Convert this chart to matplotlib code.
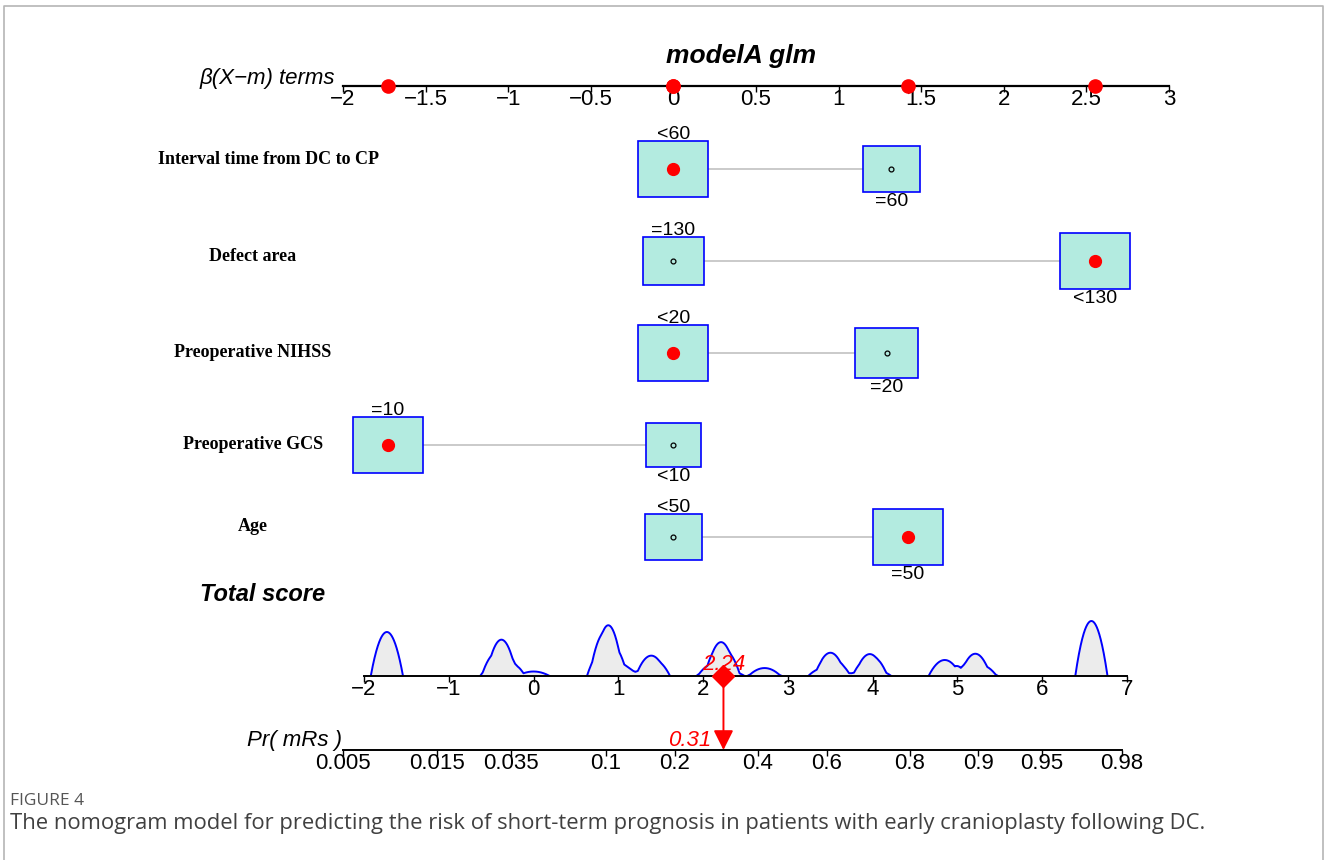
import numpy as np
import matplotlib
matplotlib.use("Agg")
import matplotlib.pyplot as plt
import matplotlib.transforms as mtransforms
from matplotlib.patches import Rectangle
from matplotlib.lines import Line2D
from matplotlib.ticker import NullLocator

plt.rcParams['font.family'] = ['Liberation Sans', 'DejaVu Sans']

# ---- model terms (beta * (X - m) points per level) ----
terms = ["Interval time from DC to CP", "Defect area", "Preoperative NIHSS",
         "Preoperative GCS", "Age"]
levels = [["<60", "=60"], ["=130", "<130"], ["<20", "=20"], ["=10", "<10"], ["<50", "=50"]]
betas = [[0.0, 1.32], [0.0, 2.55], [0.0, 1.29], [-1.73, 0.0], [0.0, 1.42]]
freqs = [[0.60, 0.40], [0.43, 0.57], [0.55, 0.45], [0.62, 0.38], [0.40, 0.60]]
observed = [0, 1, 0, 0, 1]          # level of the patient shown in red

beta_ticks = [-2, -1.5, -1, -0.5, 0, 0.5, 1, 1.5, 2, 2.5, 3]
beta_labels = ["\u22122", "\u22121.5", "\u22121", "\u22120.5", "0", "0.5", "1", "1.5", "2", "2.5", "3"]

# ---- total score distribution (score value, weight) ----
score_values = [-1.73, -0.44, -0.41, -0.31, 0.0, 0.82, 0.88, 0.98, 1.01, 1.29, 1.32, 1.42,
                2.11, 2.14, 2.24, 2.30, 2.71, 2.74, 3.43, 3.53, 3.56, 3.84, 3.87,
                3.97, 4.03, 4.85, 5.16, 5.26, 5.29, 6.58]
score_counts = [44, 12, 12, 16, 4.5, 25, 20, 5.5, 8, 3, 3, 16,
                6, 6, 21, 5, 4, 4, 8, 14, 3, 2, 2,
                14, 6, 16, 13.5, 6, 5, 55]
kde_bandwidth = 0.19          # Epanechnikov half-width, score units
score_ticks = [-2, -1, 0, 1, 2, 3, 4, 5, 6, 7]
score_labels = ["\u22122", "\u22121", "0", "1", "2", "3", "4", "5", "6", "7"]

# ---- probability axis ----
prob_intercept = -3.05
prob_ticks = [0.005, 0.015, 0.035, 0.1, 0.2, 0.4, 0.6, 0.8, 0.9, 0.95, 0.98]
prob_labels = ["0.005", "0.015", "0.035", "0.1", "0.2", "0.4", "0.6", "0.8", "0.9", "0.95", "0.98"]

caption = ("The nomogram model for predicting the risk of short-term prognosis in patients "
           "with early cranioplasty following DC.")

W, H = 1328, 860
fig = plt.figure(figsize=(W / 100, H / 100), dpi=100)


def px_axes(left, top, right, bottom):
    return fig.add_axes([left / W, 1 - bottom / H, (right - left) / W, (bottom - top) / H])


def fy(y):
    return 1 - y / H


box_fc = "#b3ebe0"
tick_kw = dict(direction="out", length=4, width=1, labelsize=16, pad=-2)

# ---- top beta scale ----
ax_top = px_axes(343, 60, 1169, 86)
ax_top.set_xlim(-2, 3)
ax_top.set_ylim(0, 1)
for s in ["top", "left", "right"]:
    ax_top.spines[s].set_visible(False)
ax_top.spines["bottom"].set_linewidth(1.6)
ax_top.set_yticks([])
ax_top.set_xticks(beta_ticks, beta_labels)
ax_top.tick_params(axis="x", **tick_kw)
ax_top.patch.set_alpha(0)
obs_betas = [betas[i][observed[i]] for i in range(len(terms))]
ax_top.plot(obs_betas, [0] * len(obs_betas), "o", color="red", ms=9.5, clip_on=False, zorder=5)

# ---- term rows with boxes ----
ax_b = px_axes(343, 86, 1169, 600)
ax_b.set_xlim(-2, 3)
ax_b.set_ylim(5 + (600 - 537) / 92, 1 - (169 - 86) / 92)
ax_b.axis("off")

box_w = 70 / 165.2
box_h = 56 / 92
label_x = [269, 253, 253, 253, 253]
label_dy = [-0.1, -0.05, 0, 0, -0.11]
lab_trans = mtransforms.blended_transform_factory(fig.transFigure, ax_b.transData)

for i, term in enumerate(terms):
    y = i + 1
    ax_b.plot(betas[i], [y, y], color="#c6c6c6", lw=1.3, zorder=1)
    fmax = max(freqs[i])
    for j, (b, f) in enumerate(zip(betas[i], freqs[i])):
        k = np.sqrt(f / fmax)
        w, h = box_w * k, box_h * k
        ax_b.add_patch(Rectangle((b - w / 2, y - h / 2), w, h, fc=box_fc, ec="blue",
                                 lw=1.2, zorder=2, clip_on=False))
        if j == observed[i]:
            ax_b.plot(b, y, "o", color="red", ms=8.5, zorder=4, clip_on=False)
        else:
            ax_b.plot(b, y, "o", mfc="none", mec="black", ms=3.5, mew=0.9, zorder=4, clip_on=False)
        if j == 0:
            ax_b.annotate(levels[i][j], (b, y - h / 2), xytext=(0, 1.5), textcoords="offset points",
                          ha="center", va="baseline", fontsize=14, annotation_clip=False)
        else:
            ax_b.annotate(levels[i][j], (b, y + h / 2), xytext=(0, -0.5), textcoords="offset points",
                          ha="center", va="top", fontsize=14, annotation_clip=False)
    ax_b.text(label_x[i] / W, y + label_dy[i], term, transform=lab_trans, ha="center",
              va="center", fontsize=13, fontweight="bold", family="Liberation Serif")

# ---- total score density (Epanechnikov kernel estimate) ----
ax_d = px_axes(364, 616, 1127, 676)
grid = np.linspace(-2, 7, 4000)
u = (grid[:, None] - np.array(score_values)[None, :]) / kde_bandwidth
dens = (np.clip(1 - u ** 2, 0, None) * np.array(score_counts)[None, :]).sum(axis=1)
ax_d.fill_between(grid, 0, dens, color="#ececec", lw=0, zorder=1)
ax_d.plot(grid, np.where(dens > 0, dens, np.nan), color="blue", lw=1.4, zorder=2)
ax_d.set_xlim(-2, 7)
ax_d.set_ylim(0, dens.max() * 60 / 55)
for s in ["top", "left", "right"]:
    ax_d.spines[s].set_visible(False)
ax_d.spines["bottom"].set_linewidth(1.4)
ax_d.spines["bottom"].set_zorder(3)
ax_d.set_yticks([])
ax_d.set_xticks(score_ticks, score_labels)
ax_d.tick_params(axis="x", **tick_kw)
ax_d.patch.set_alpha(0)

obs_score = sum(obs_betas)
p_obs = 1 / (1 + np.exp(-(obs_score + prob_intercept)))
ax_d.plot(obs_score, 0, "D", color="red", ms=11, clip_on=False, zorder=6)
ax_d.annotate(f"{obs_score:.2f}", (obs_score, 0), xytext=(0, 4), textcoords="offset points",
              ha="center", va="baseline", color="red", style="italic", fontsize=16,
              annotation_clip=False)

# ---- probability axis ----
score_px = (1127 - 364) / 9


def score_to_px(s):
    return 364 + (s + 2) * score_px


def logit(p):
    return np.log(p / (1 - p))


ax_p = px_axes(score_to_px(logit(prob_ticks[0]) - prob_intercept), 720,
               score_to_px(logit(prob_ticks[-1]) - prob_intercept), 750)
ax_p.set_xscale("logit")
ax_p.set_xlim(prob_ticks[0], prob_ticks[-1])
ax_p.set_ylim(0, 1)
for s in ["top", "left", "right"]:
    ax_p.spines[s].set_visible(False)
ax_p.spines["bottom"].set_linewidth(1.4)
ax_p.set_yticks([])
ax_p.set_xticks(prob_ticks, prob_labels)
ax_p.xaxis.set_minor_locator(NullLocator())
ax_p.tick_params(axis="x", **tick_kw)
ax_p.patch.set_alpha(0)

ax_p.annotate("", xy=(p_obs, 0), xycoords="data", xytext=(obs_score, 0), textcoords=ax_d.transData,
              arrowprops=dict(arrowstyle="-|>", color="red", lw=1.4, shrinkA=0, shrinkB=0,
                              mutation_scale=30), annotation_clip=False)
ax_p.annotate(f"{p_obs:.2f}", (p_obs, 0), xytext=(-9, 3), textcoords="offset points",
              ha="right", va="baseline", color="red", style="italic", fontsize=16,
              annotation_clip=False)

# ---- titles and labels ----
fig.text(741 / W, fy(63), "modelA glm", ha="center", va="baseline", fontsize=19,
         fontweight="bold", style="italic")
fig.text(335 / W, fy(84), "\u03b2(X\u2212m) terms", ha="right", va="baseline", fontsize=16,
         style="italic")
fig.text(200 / W, fy(601), "Total score", ha="left", va="baseline", fontsize=17,
         fontweight="bold", style="italic")
fig.text(342 / W, fy(746), "Pr( mRs )", ha="right", va="baseline", fontsize=16, style="italic")

# ---- caption and frame ----
fig.text(10 / W, fy(801), "FIGURE 4", fontsize=12.5, family="Open Sans", color="#555555", va="center")
fig.text(10 / W, fy(823), caption, fontsize=15.8, family="Open Sans", color="#404040", va="center")
fig.add_artist(Line2D([4 / W, 4 / W, 1323 / W, 1323 / W], [0, fy(6), fy(6), 0],
                      transform=fig.transFigure, color="#b5b5b5", lw=1.2))

fig.savefig("out.png", dpi=100)
